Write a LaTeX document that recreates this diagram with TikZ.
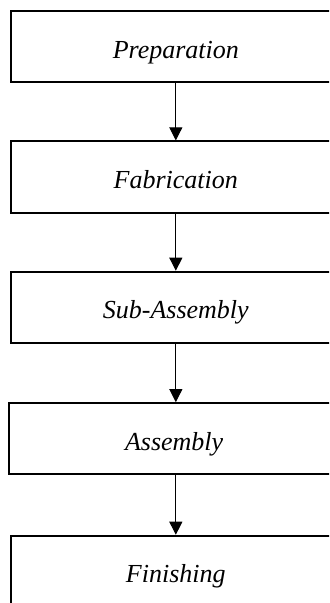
\documentclass[tikz,border=0pt]{standalone}
\usepackage{fontspec}
\setmainfont{Liberation Serif}
\usetikzlibrary{arrows.meta,positioning}

\begin{document}
\begin{tikzpicture}[
    stage/.style={rectangle, draw, line width=1pt, minimum width=5.8cm, minimum height=1.25cm, text height=12pt, text depth=0.5pt, font=\fontsize{13}{15}\selectfont\itshape},
    >={Triangle[length=6.5pt, width=6.5pt]}
]
    \useasboundingbox (0,0) rectangle (5.782,-10.597);
    \clip (0,0) rectangle (5.782,-10.597);

    % Stages
    \node[stage] (prep) at (3.09, -0.82) {Preparation};
    \node[stage] (fab) at (3.09, -3.11) {Fabrication};
    \node[stage] (sub) at (3.09, -5.40) {Sub-Assembly};
    \node[stage] (asm) at (3.06, -7.71) {Assembly};
    \node[stage] (fin) at (3.09, -10.04) {Finishing};

    % Links
    \draw[->, line width=0.5pt] (prep) -- (fab);
    \draw[->, line width=0.5pt] (fab) -- (sub);
    \draw[->, line width=0.5pt] (sub) -- (prep.south |- asm.north);
    \draw[->, line width=0.5pt] (prep.south |- asm.south) -- (fin);
\end{tikzpicture}
\end{document}
